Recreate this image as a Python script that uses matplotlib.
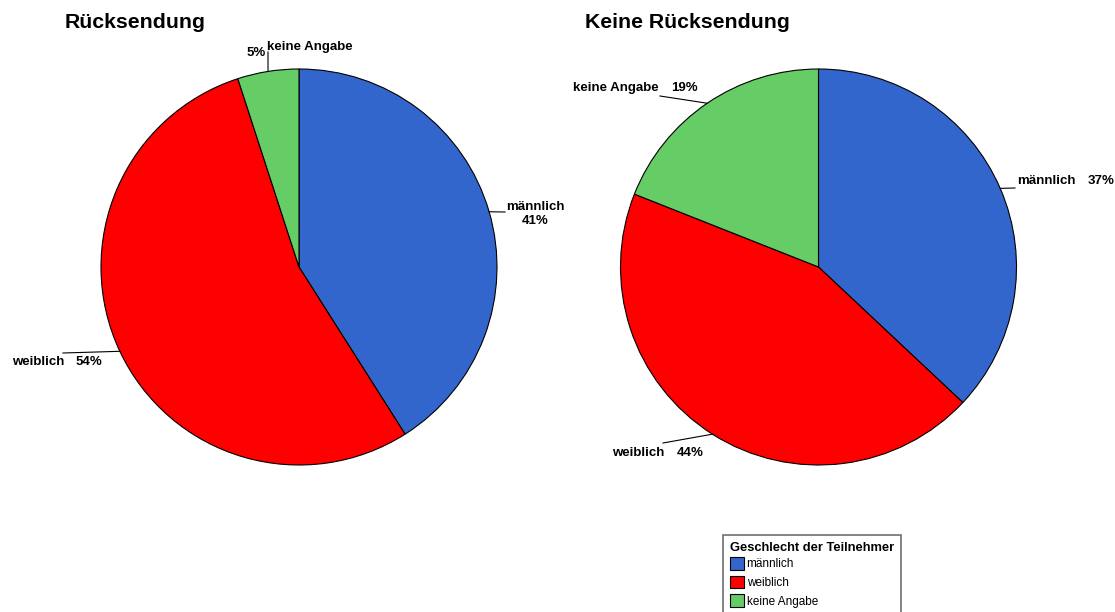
import matplotlib
matplotlib.use("Agg")
import matplotlib.pyplot as plt
import numpy as np

categories = ["männlich", "weiblich", "keine Angabe"]
ruecksendung = [41, 54, 5]
keine_ruecksendung = [37, 44, 19]
titles = ["Rücksendung", "Keine Rücksendung"]
legend_title = "Geschlecht der Teilnehmer"
colors = ["#3366CC", "#FF0000", "#66CC66"]

W, H = 1115, 612
fig = plt.figure(figsize=(W / 100, H / 100), dpi=100)
plt.rcParams['font.family'] = ['Liberation Sans', 'DejaVu Sans']

R = 198


def make_ax(cx, cy):
    ax = fig.add_axes([(cx - R) / W, (H - cy - R) / H, 2 * R / W, 2 * R / H])
    return ax


def px(ax_c, x, y):
    cx, cy = ax_c
    return ((x - cx) / R, (cy - y) / R)


def draw_pie(ax, values):
    wedges, _ = ax.pie(values, colors=colors, startangle=90, counterclock=False,
                       radius=1, wedgeprops=dict(edgecolor='black', linewidth=0.8))
    ax.set_xlim(-1, 1)
    ax.set_ylim(-1, 1)
    ax.set_aspect('equal')
    ax.axis('off')
    return wedges


def mid_point(values, i, r=1.0):
    total = sum(values)
    start = sum(values[:i])
    mid = (start + values[i] / 2) / total * 360
    ang = np.deg2rad(90 - mid)
    return r * np.cos(ang), r * np.sin(ang)


fs = 9.5
tfs = 15.3
lkw = dict(fontsize=fs, fontweight='bold', clip_on=False)
# Left pie
c1 = (299, 267)
ax1 = make_ax(*c1)
w1 = draw_pie(ax1, ruecksendung)
fig.text(65 / W, 1 - 23 / H, titles[0], fontsize=tfs, fontweight='bold', va='center', ha='left')

p = mid_point(ruecksendung, 0)
e = px(c1, 505, 212)
ax1.plot([p[0], e[0]], [p[1], e[1]], color='black', lw=0.8, clip_on=False)
t = px(c1, 535, 214)
ax1.text(t[0], t[1], f"{categories[0]}\n{ruecksendung[0]}%", ha='center', va='center',
         linespacing=1.25, **lkw)

p = mid_point(ruecksendung, 1)
e = px(c1, 63, 353)
ax1.plot([p[0], e[0]], [p[1], e[1]], color='black', lw=0.8, clip_on=False)
t = px(c1, 12, 362)
ax1.text(t[0], t[1], categories[1], ha='left', va='center', **lkw)
t = px(c1, 76, 362)
ax1.text(t[0], t[1], f"{ruecksendung[1]}%", ha='left', va='center', **lkw)

p = mid_point(ruecksendung, 2)
e = px(c1, 268, 52)
ax1.plot([p[0], e[0]], [p[1], e[1]], color='black', lw=0.8, clip_on=False)
t = px(c1, 266, 53)
ax1.text(t[0], t[1], f"{ruecksendung[2]}%", ha='right', va='center', **lkw)
t = px(c1, 267, 47)
ax1.text(t[0], t[1], categories[2], ha='left', va='center', **lkw)

# Right pie
c2 = (818.5, 267)
ax2 = make_ax(*c2)
w2 = draw_pie(ax2, keine_ruecksendung)
fig.text(585 / W, 1 - 23 / H, titles[1], fontsize=tfs, fontweight='bold', va='center', ha='left')

p = mid_point(keine_ruecksendung, 0)
e = px(c2, 1015, 188)
ax2.plot([p[0], e[0]], [p[1], e[1]], color='black', lw=0.8, clip_on=False)
t = px(c2, 1017, 181)
ax2.text(t[0], t[1], categories[0], ha='left', va='center', **lkw)
t = px(c2, 1088, 181)
ax2.text(t[0], t[1], f"{keine_ruecksendung[0]}%", ha='left', va='center', **lkw)

p = mid_point(keine_ruecksendung, 1)
e = px(c2, 663, 443)
ax2.plot([p[0], e[0]], [p[1], e[1]], color='black', lw=0.8, clip_on=False)
t = px(c2, 612, 453)
ax2.text(t[0], t[1], categories[1], ha='left', va='center', **lkw)
t = px(c2, 677, 453)
ax2.text(t[0], t[1], f"{keine_ruecksendung[1]}%", ha='left', va='center', **lkw)

p = mid_point(keine_ruecksendung, 2)
e = px(c2, 660, 96)
ax2.plot([p[0], e[0]], [p[1], e[1]], color='black', lw=0.8, clip_on=False)
t = px(c2, 573, 88)
ax2.text(t[0], t[1], categories[2], ha='left', va='center', **lkw)
t = px(c2, 671, 88)
ax2.text(t[0], t[1], f"{keine_ruecksendung[2]}%", ha='left', va='center', **lkw)

# Legend
leg = fig.legend(w1, categories, loc='upper left', bbox_to_anchor=(723 / W, 1 - 535 / H),
                 title=legend_title, fontsize=8.5, title_fontproperties={'weight': 'bold', 'size': 9.3},
                 fancybox=False, edgecolor='#707070', framealpha=1, borderpad=0.6,
                 handlelength=1.2, handleheight=1.3, handletextpad=0.2, labelspacing=0.45,
                 alignment='left', borderaxespad=0)
leg.get_frame().set_linewidth(1.2)
leg._legend_box.align = 'left'
leg._legend_box.sep = 2

fig.savefig("out.png", dpi=100)
